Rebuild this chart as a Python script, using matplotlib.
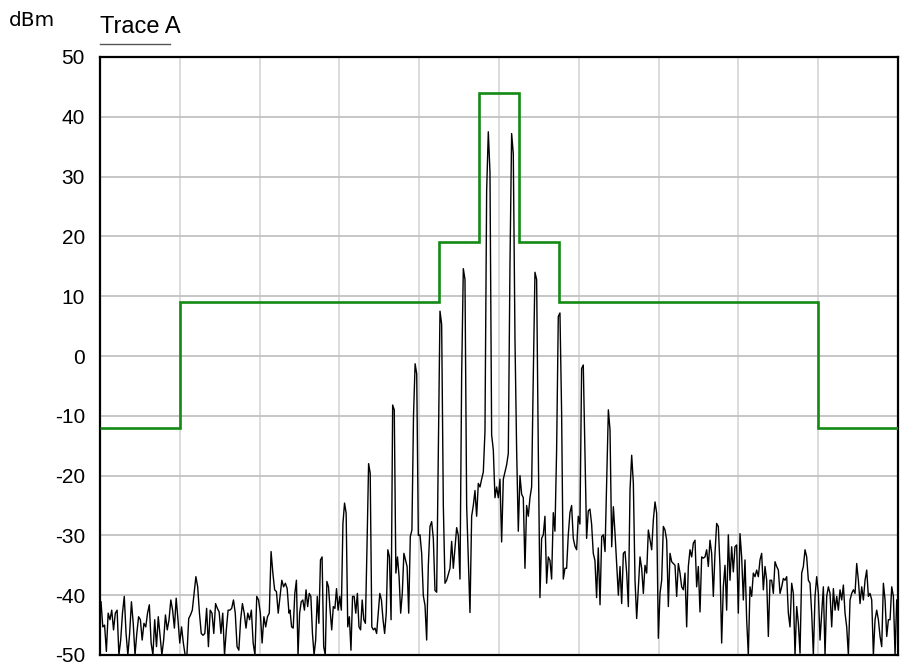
import numpy as np
import matplotlib
matplotlib.use("Agg")
import matplotlib.pyplot as plt
from matplotlib.lines import Line2D

plt.rcParams['font.family'] = ['Liberation Sans', 'DejaVu Sans']
plt.rcParams['axes.unicode_minus'] = False

#- limit mask (green): edges in screen divisions, level in dBm
mask_edges = [0, 1, 4.25, 4.75, 5.25, 5.75, 9, 10]
mask_dbm = [-12, 9, 19, 44, 19, 9, -12]

seg_a_span = (0.0125, 2.368)
seg_a_dbm = [-41.1, -45.3, -45, -49.4, -43, -44.1, -42.5, -45.8, -43, -42.5,
             -50, -47.5, -43, -40.2, -46.4, -50, -46.4, -41.1, -44.7, -50,
             -46.4, -43.6, -44.1, -47.5, -44.7, -45.3, -43, -41.6, -48, -50,
             -44.1, -48.6, -43.6, -46.9, -50, -47.5, -43.3, -45.8, -44.1, -40.8,
             -42.5, -45.5, -40.5, -44.1, -48, -45.3, -48, -50, -50, -43.9,
             -43.3, -42.5, -39.7, -36.9, -38.6, -43, -46.4, -46.7, -46.4, -42.2,
             -48.6, -42.5, -43, -46.4, -41.4, -42.2, -42.8, -46.4, -43, -50,
             -45.8, -42.5, -42.5, -42.2, -40.8, -43, -48.6, -49.2, -44.1, -41.4,
             -43, -45.5, -43, -44.1, -42.5, -48, -50, -40.2, -40.8, -43,
             -48, -43.6, -45.3, -43.6, -43, -32.7, -36.3, -39.1, -39.4, -43,
             -40.2, -37.5, -38.6, -38, -38.9, -43]

seg_b_span = (2.381, 3.989)
seg_b_dbm = [-42.5, -45.3, -45.5, -39.7, -37.5, -50, -43, -41.1, -40.8, -42.5,
             -39.1, -41.9, -39.7, -40.2, -46.4, -50, -47.5, -40.2, -44.7, -34.1,
             -33.6, -48.6, -50, -37.7, -38.6, -42.5, -45.8, -41.9, -42.2, -38.9,
             -42.5, -40.2, -42.5, -28, -24.6, -26.3, -45.3, -43.6, -49.2, -40.2,
             -40.2, -43, -39.7, -45.3, -45.8, -40.8, -44.1, -44.7, -31.9, -18,
             -19.6, -45.3, -45.8, -45.5, -46.4, -43, -39.7, -40.8, -44.1, -46.4,
             -43, -32.4, -33.6, -44.1, -8.2, -9, -36.3, -33.6, -36.9, -43,
             -39.7, -33, -34.1, -35.2, -43, -30.2, -29.1, -10, -1.3, -3,
             -30]

seg_c_span = (4.010, 6.244)
seg_c_dbm = [-29.9, -33, -40.1, -41.7, -47.5, -35, -28.5, -27.7, -30.5, -39.2,
             -39.5, -15.7, 7.5, 5.3, -25, -38, -37.5, -36.5, -35.5, -31,
             -35.5, -32, -28.7, -30, -37.3, -3.3, 14.6, 12.8, -25, -34.2,
             -42.9, -26.8, -25, -22.5, -26.8, -21.3, -21.9, -20.6, -19.4, -12.6,
             27.6, 37.5, 30.7, -13.2, -15.7, -23.7, -21.9, -23.7, -20.6, -31.1,
             -20.6, -19.4, -18.2, -16.3, 15.2, 37.2, 33.8, 2.9, -15.7, -29.3,
             -20, -23.1, -23.7, -35.5, -25, -26.8, -23.7, -21.9, -3.3, 14,
             12.8, -15.7, -40.4, -30.5, -29.9, -26.8, -38, -33.6, -34.2, -37.3,
             -26.2, -29.3, -15.7, 6.6, 7.2, -9.5, -37.3, -35.5, -35.5, -29.9,
             -26.2, -25, -30.5, -31.8, -32.4, -26.8, -28.1, -2.1, -1.5, -15.7,
             -30.5, -25.9, -25.6, -28.1, -33, -34.2, -40.4, -32.1]

seg_d_span = (6.266, 7.999)
seg_d_dbm = [-41.6, -30.2, -29.9, -32.7, -20.7, -9, -12.4, -31.9, -25.2, -29.7,
             -34.7, -40, -35.2, -41.4, -33, -32.7, -36.3, -41.9, -22.4, -16.6,
             -21.3, -37.5, -43.9, -38.6, -33.6, -35.5, -39.7, -35, -36.3, -29.1,
             -30.8, -32.4, -27.4, -24.4, -26.3, -47.2, -39.7, -37.5, -28.5, -29.1,
             -30.8, -41.9, -33, -34.4, -34.7, -35, -40.2, -34.7, -36.3, -38.6,
             -39.1, -36.3, -45.3, -35.2, -32.4, -33.6, -31.3, -30.8, -38.6, -35.2,
             -42.8, -33.6, -33.8, -33.6, -32.4, -35.2, -30.8, -33, -40.2, -33,
             -28, -28.5, -35.2, -48, -38.6, -35, -42.5, -29.9, -37.5, -31.9,
             -36.1, -31.9, -31.6, -43]

seg_e_span = (8.020, 9.984)
seg_e_dbm = [-29.7, -33.6, -40.8, -34.1, -44.1, -50, -38.6, -40.2, -36.3, -36.9,
             -35.8, -36.9, -34.1, -33, -39.1, -35.2, -37.5, -46.9, -37.5, -37.5,
             -39.7, -34.4, -35.2, -35.8, -39.7, -38.6, -37.2, -37.5, -36.9, -43,
             -45.3, -38, -39.7, -50, -41.9, -44.7, -49.7, -36.3, -35.2, -32.4,
             -33.6, -37.5, -38, -43, -50, -40.2, -36.9, -39.7, -47.5, -43,
             -38.6, -50, -40.2, -38.6, -39.7, -45.3, -38.9, -42.5, -40.2, -42.5,
             -39.1, -40.8, -38.3, -43, -45.3, -50, -40.8, -39.7, -39.1, -39.7,
             -34.7, -37.5, -41.4, -38.6, -40.8, -37.5, -35.8, -40.2, -39.7, -40.8,
             -50, -44.1, -42.5, -44.1, -46.9, -48.6, -38, -40.8, -46.9, -44.1,
             -44.1, -38.6, -40.2, -50, -40.8]

segments = [(seg_a_span, seg_a_dbm), (seg_b_span, seg_b_dbm), (seg_c_span, seg_c_dbm),
            (seg_d_span, seg_d_dbm), (seg_e_span, seg_e_dbm)]
trace_x = np.concatenate([np.linspace(s[0], s[1], len(v)) for s, v in segments])
trace_y = np.concatenate([np.array(v, dtype=float) for s, v in segments])

yticks = np.arange(-50, 51, 10)

fig = plt.figure(figsize=(9.04, 6.70), dpi=100)
ax = fig.add_axes([100/904, 15/670, 798/904, 598/670])

#- grid: vertical lines lighter than horizontal
for xv in range(1, 10):
    ax.axvline(xv, color='#d9d9d9', lw=1.3, zorder=0)
for yv in yticks[1:-1]:
    ax.axhline(yv, color='#c2c2c2', lw=1.3, zorder=0)

ax.plot(trace_x, trace_y, color='black', lw=1.0, zorder=2)
ax.stairs(mask_dbm, mask_edges, baseline=None, color='#138a13', lw=1.9, zorder=3)

ax.set_xlim(0, 10)
ax.set_ylim(-50, 50)
ax.set_xticks([])
ax.set_yticks(yticks)
ax.set_yticklabels([str(v) for v in yticks])
ax.tick_params(axis='y', length=0, pad=10.8, labelsize=15)
for sp in ax.spines.values():
    sp.set_color('black')
    sp.set_linewidth(1.6)

fig.text(9/904, 1 - 26/670, 'dBm', fontsize=14.5, family='DejaVu Sans', ha='left', va='baseline')
fig.text(100/904, 1 - 33/670, 'Trace A', fontsize=17, ha='left', va='baseline')
fig.add_artist(Line2D([100/904, 170/904], [1 - 44/670, 1 - 44/670], color='#555555', lw=1))

fig.savefig('out.png', dpi=100)
